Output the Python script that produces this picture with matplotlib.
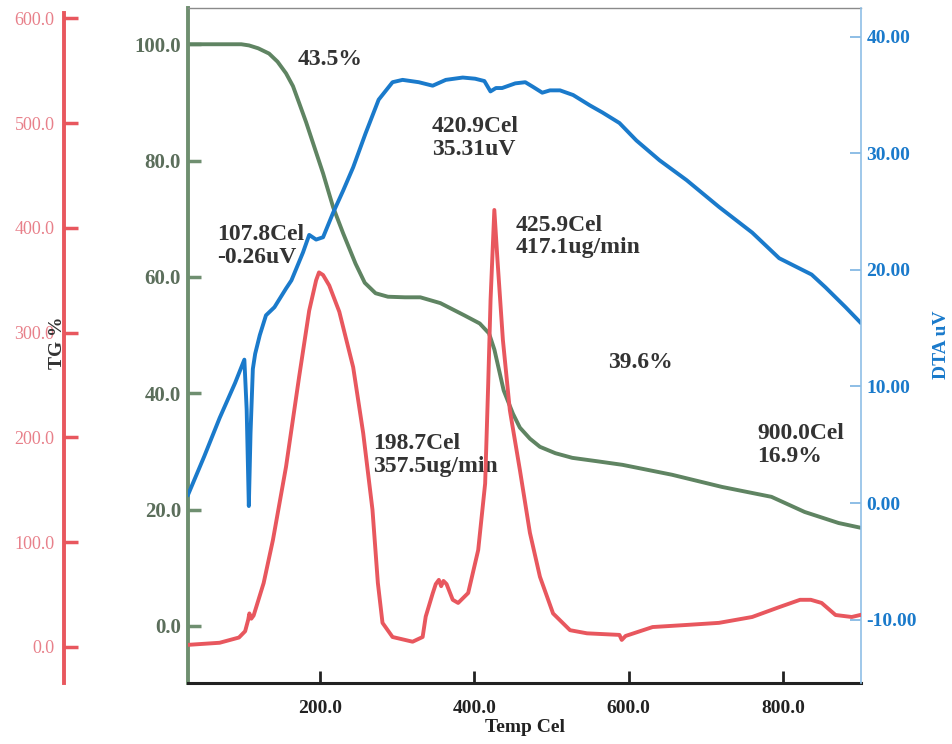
import matplotlib
matplotlib.use("Agg")
import matplotlib.pyplot as plt

plt.rcParams['font.family'] = ['Liberation Serif', 'DejaVu Serif']

# TG curve (mass %)
tg_temp = [29, 60, 98, 108, 120, 134, 145, 156, 165, 173, 182, 191, 204, 217, 230,
           246, 258, 272, 288, 310, 330, 356, 387, 407, 419, 426, 438, 450, 459, 472,
           485, 505, 527, 560, 592, 656, 721, 785, 828, 872, 900]
tg_val = [100, 100, 100, 99.8, 99.3, 98.4, 97.0, 95.0, 92.8, 89.9, 86.6, 83.0, 77.8, 72.0, 67.5,
          62.3, 59.0, 57.2, 56.6, 56.5, 56.5, 55.5, 53.4, 52.0, 50.3, 47.5, 40.5, 36.5, 34.1, 32.2,
          30.8, 29.7, 28.9, 28.3, 27.7, 26.0, 23.9, 22.2, 19.6, 17.7, 16.9]

# DTA curve (uV)
dta_temp = [29, 50, 70, 90, 102, 105, 107.8, 110, 113, 116, 122, 130, 141, 156, 163,
            178, 186, 195, 204, 217, 230, 243, 259, 276, 294, 307, 328, 346, 363, 385,
            401, 413, 420.9, 428, 436, 453, 466, 476, 488, 498, 511, 528, 550, 566, 588,
            610, 640, 675, 717, 760, 795, 825, 837, 855, 881, 900]
dta_val = [0.7, 4.0, 7.3, 10.3, 12.3, 8.0, -0.26, 6.0, 11.5, 12.8, 14.4, 16.1, 16.8, 18.4, 19.1,
           21.5, 23.0, 22.6, 22.8, 24.9, 26.8, 28.8, 31.7, 34.6, 36.1, 36.3, 36.1, 35.8, 36.3, 36.5,
           36.4, 36.2, 35.31, 35.6, 35.6, 36.0, 36.1, 35.7, 35.2, 35.4, 35.4, 35.0, 34.1, 33.5, 32.6,
           31.1, 29.4, 27.7, 25.4, 23.2, 21.0, 20.0, 19.6, 18.5, 16.8, 15.5]

# DTG curve (ug/min)
dtg_temp = [29, 70, 95, 103, 107, 108.5, 111, 114, 127, 139, 156, 173, 186, 195, 198.7,
            204, 212, 225, 243, 256, 268, 275, 281, 294, 320, 333, 337, 346, 350, 354,
            357, 360, 364, 372, 379, 392, 405, 414, 418, 421, 425.9, 430, 437, 446, 459,
            472, 485, 502, 524, 546, 588, 591, 596, 631, 675, 717, 760, 795, 822, 836,
            850, 868, 889, 900]
dtg_val = [2, 4, 9, 15, 26, 32, 27, 30, 61, 102, 172, 258, 321, 350, 357.5,
           355, 345, 320, 267, 204, 131, 61, 23, 9.5, 5, 9.5, 29, 51, 60, 64,
           58, 63, 60, 45, 42, 51.5, 92.5, 156, 252, 331, 417.1, 369, 293, 226, 169,
           109, 67, 32, 16, 13, 11.5, 6.7, 10.5, 19, 21, 23, 28.6, 38, 45, 45,
           42, 30.5, 28.6, 30.5]

tg_ticks = [0, 20, 40, 60, 80, 100]
dta_ticks = [-10, 0, 10, 20, 30, 40]
dtg_ticks = [0, 100, 200, 300, 400, 500, 600]
temp_ticks = [200, 400, 600, 800]

notes = [
    ("43.5%", 0.1634, 0.940),
    ("420.9Cel\n35.31uV", 0.3626, 0.840),
    ("107.8Cel\n-0.26uV", 0.0431, 0.680),
    ("425.9Cel\n417.1ug/min", 0.4874, 0.694),
    ("198.7Cel\n357.5ug/min", 0.2749, 0.370),
    ("39.6%", 0.6241, 0.490),
    ("900.0Cel\n16.9%", 0.8455, 0.385),
]

green = '#5f8462'
blue = '#1a7acb'
red = '#e8575e'

fig = plt.figure(figsize=(9.52, 7.44), dpi=100)
ax = fig.add_axes([0.1975, 0.082, 0.7069, 0.907])
ax_dta = ax.twinx()
ax_dtg = ax.twinx()

ax.plot(tg_temp, tg_val, color=green, lw=2.8)
ax_dta.plot(dta_temp, dta_val, color=blue, lw=2.8)
ax_dtg.plot(dtg_temp, dtg_val, color=red, lw=2.8)

ax.set_xlim(29, 901)
ax.set_ylim(-9.8, 106.2)
ax_dta.set_ylim(-15.44, 42.45)
ax_dtg.set_ylim(-34.4, 609.7)

# main axis: TG on the left, temperature at the bottom
ax.set_yticks(tg_ticks)
ax.set_yticklabels([f"{t:.1f}" for t in tg_ticks])
ax.set_xticks(temp_ticks)
ax.set_xticklabels([f"{t:.1f}" for t in temp_ticks])
ax.spines['left'].set_color('#6f8f70')
ax.spines['left'].set_linewidth(2.8)
ax.spines['bottom'].set_color('#222222')
ax.spines['bottom'].set_linewidth(2.2)
ax.spines['top'].set_color('#8a8a8a')
ax.spines['top'].set_linewidth(1.0)
ax.spines['right'].set_visible(False)
ax.tick_params(axis='y', direction='in', length=9, width=2.5, color='#6f8f70',
               labelcolor='#5b6e5b', labelsize=15, pad=5)
ax.tick_params(axis='x', direction='in', length=9, width=2, color='#222222',
               labelcolor='#222222', labelsize=14, pad=12)
for lab in ax.get_yticklabels() + ax.get_xticklabels():
    lab.set_fontweight('bold')
ax.set_xlabel("Temp Cel", fontsize=14, fontweight='bold', color='#222222', labelpad=2)

# DTA on the right
ax_dta.set_yticks(dta_ticks)
ax_dta.set_yticklabels([f"{t:.2f}" for t in dta_ticks])
for side in ['top', 'bottom', 'left']:
    ax_dta.spines[side].set_visible(False)
ax_dta.spines['right'].set_color('#8fbfe6')
ax_dta.spines['right'].set_linewidth(1.2)
ax_dta.tick_params(axis='y', direction='in', length=8, width=1.2, color='#7ab3e2',
                   labelcolor=blue, labelsize=14, pad=4)
for lab in ax_dta.get_yticklabels():
    lab.set_fontweight('bold')

# DTG on an offset left spine
ax_dtg.spines['left'].set_position(('axes', -0.184))
ax_dtg.spines['left'].set_visible(True)
ax_dtg.yaxis.set_ticks_position('left')
ax_dtg.yaxis.set_label_position('left')
for side in ['top', 'bottom', 'right']:
    ax_dtg.spines[side].set_visible(False)
ax_dtg.spines['left'].set_color(red)
ax_dtg.spines['left'].set_linewidth(2.8)
ax_dtg.spines['left'].set_bounds(-34.4, 605)
ax_dtg.set_yticks(dtg_ticks)
ax_dtg.set_yticklabels([f"{t:.1f}" for t in dtg_ticks])
ax_dtg.tick_params(axis='y', direction='in', length=10, width=2.5, color=red,
                   labelcolor='#e8808a', labelsize=13, pad=7)

fig.text(58 / 952, 1 - 343 / 744, "TG %", rotation=90, ha='center', va='center',
         fontsize=14, fontweight='bold', color='#333333')
fig.text(941 / 952, 1 - 345 / 744, "DTA uV", rotation=90, ha='center', va='center',
         fontsize=14, fontweight='bold', color=blue)

for txt, x, y in notes:
    ax.text(x, y, txt, transform=ax.transAxes, ha='left', va='top', fontsize=17,
            fontweight='bold', color='#333333', linespacing=1.1)

fig.savefig("out.png", dpi=100)
